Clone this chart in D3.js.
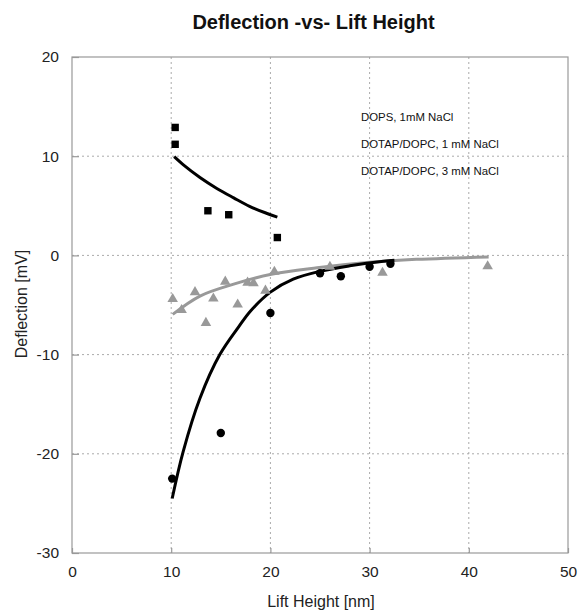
<!DOCTYPE html>
<html>
<head>
<meta charset="utf-8">
<script src="https://cdn.jsdelivr.net/npm/d3@7"></script>
<style>
  body { margin: 0; background: #fff; }
  text { font-family: "Liberation Sans", Arial, sans-serif; }
</style>
</head>
<body>
<script>
//Define data
let xTicks = [0, 10, 20, 30, 40, 50];
let yTicks = [-30, -20, -10, 0, 10, 20];

let seriesNames = ['DOPS, 1mM NaCl', 'DOTAP/DOPC, 1 mM NaCl', 'DOTAP/DOPC, 3 mM NaCl'];

// DOPS, 1mM NaCl (squares)
let dopsX = [10.4, 10.4, 13.7, 15.8, 20.7];
let dopsY = [12.9, 11.2, 4.5, 4.1, 1.8];
let dopsFitX = [10.3, 11.2, 12.9, 14.6, 16.3, 17.9, 19.6, 20.7];
let dopsFitY = [9.95, 9.15, 7.85, 6.75, 5.8, 4.95, 4.25, 3.85];

// DOTAP/DOPC, 1 mM NaCl (circles)
let dotap1X = [10.1, 15.0, 20.0, 25.0, 27.1, 30.0, 32.1];
let dotap1Y = [-22.5, -17.9, -5.8, -1.8, -2.1, -1.15, -0.85];
let dotap1FitX = [10.1, 11.2, 12.9, 14.9, 16.8, 18.0, 20.0, 22.3, 25.0, 28.0, 31.4, 32.5];
let dotap1FitY = [-24.5, -19.8, -14.4, -10.0, -7.2, -5.6, -3.7, -2.4, -1.6, -1.05, -0.6, -0.5];

// DOTAP/DOPC, 3 mM NaCl (triangles)
let dotap3X = [10.15, 11.05, 12.4, 13.5, 14.25, 15.45, 16.7, 17.7, 18.3, 19.5, 20.4, 26.0, 31.3, 41.9];
let dotap3Y = [-4.4, -5.5, -3.7, -6.8, -4.35, -2.65, -4.95, -2.75, -2.8, -3.55, -1.65, -1.15, -1.75, -1.1];
let dotap3FitX = [10.15, 12.9, 16.3, 20.1, 24.7, 30.0, 34.7, 42.0];
let dotap3FitY = [-5.95, -4.1, -2.9, -1.9, -1.25, -0.7, -0.4, -0.15];

let
  width = 579,
  height = 612;

let margin = {
  top: 57,
  bottom: 59,
  left: 72,
  right: 11
}

let svg = d3.select('body')
            .append('svg')
            .attr('width', width)
            .attr('height', height)

//Define the scales:
let xScale = d3.scaleLinear()
              .domain([0, 50])
              .range([margin.left, width - margin.right])

let yScale = d3.scaleLinear()
              .domain([-30, 20])
              .range([height - margin.bottom, margin.top])

//grid lines
svg.append('g')
  .selectAll('line')
  .data(xTicks.slice(1, -1))
  .join('line')
  .attr('x1', d => xScale(d))
  .attr('x2', d => xScale(d))
  .attr('y1', yScale(20))
  .attr('y2', yScale(-30))
  .attr('stroke', '#aaa')
  .attr('stroke-dasharray', '2,3')

svg.append('g')
  .selectAll('line')
  .data(yTicks.slice(1, -1))
  .join('line')
  .attr('x1', xScale(0))
  .attr('x2', xScale(50))
  .attr('y1', d => yScale(d))
  .attr('y2', d => yScale(d))
  .attr('stroke', '#aaa')
  .attr('stroke-dasharray', '2,3')

//frame
svg.append('rect')
  .attr('x', xScale(0))
  .attr('y', yScale(20))
  .attr('width', xScale(50) - xScale(0))
  .attr('height', yScale(-30) - yScale(20))
  .attr('fill', 'none')
  .attr('stroke', '#999')
  .attr('stroke-width', 1.2)

//axes (plain hyphen minus like the original)
let xAxis = svg.append('g')
              .attr('transform', `translate(0, ${yScale(-30)})`)
              .call(d3.axisBottom(xScale).tickValues(xTicks).tickFormat(d => String(d))
                      .tickSizeInner(-5).tickSizeOuter(0).tickPadding(13))
let yAxis = svg.append('g')
              .attr('transform', `translate(${xScale(0)}, 0)`)
              .call(d3.axisLeft(yScale).tickValues(yTicks).tickFormat(d => String(d))
                      .tickSizeInner(-7).tickSizeOuter(0).tickPadding(13))

svg.selectAll('.domain').remove()
svg.selectAll('.tick line').attr('stroke', '#999').attr('stroke-width', 1.2)
svg.selectAll('.tick text')
  .style('font-size', '15.5px')
  .style('font-family', '"Liberation Sans", Arial, sans-serif')
  .attr('fill', '#222')

//Draw the labels
svg.append('text')
  .attr('x', width / 2 + 24)
  .attr('y', 29)
  .text('Deflection -vs- Lift Height')
  .style('text-anchor', 'middle')
  .style('font-size', '20px')
  .style('font-weight', 'bold')
  .attr('fill', '#111')

svg.append('text')
  .attr('x', 321)
  .attr('y', 607)
  .text('Lift Height [nm]')
  .style('text-anchor', 'middle')
  .style('font-size', '16px')
  .attr('fill', '#222')

svg.append('text')
  .attr('x', -304)
  .attr('y', 27)
  .text('Deflection [mV]')
  .style('text-anchor', 'middle')
  .style('font-size', '16px')
  .attr('fill', '#222')
  .attr('transform', 'rotate(-90)')

//legend text
svg.append('g')
  .selectAll('text')
  .data(seriesNames)
  .join('text')
  .attr('x', 361)
  .attr('y', (d, i) => 120.7 + i * 27.3)
  .text(d => d)
  .style('font-size', '11.4px')
  .attr('fill', '#111')

//fit lines
let line = d3.line()
            .x(d => xScale(d[0]))
            .y(d => yScale(d[1]))
            .curve(d3.curveCatmullRom)

svg.append('path')
  .datum(d3.zip(dotap3FitX, dotap3FitY))
  .attr('d', line)
  .attr('stroke', '#999')
  .attr('stroke-width', 3)
  .attr('fill', 'none')

svg.append('path')
  .datum(d3.zip(dotap1FitX, dotap1FitY))
  .attr('d', line)
  .attr('stroke', '#000')
  .attr('stroke-width', 3)
  .attr('fill', 'none')

svg.append('path')
  .datum(d3.zip(dopsFitX, dopsFitY))
  .attr('d', line)
  .attr('stroke', '#000')
  .attr('stroke-width', 3)
  .attr('fill', 'none')

//markers
svg.append('g')
  .selectAll('path')
  .data(d3.zip(dotap3X, dotap3Y))
  .join('path')
  .attr('d', d3.symbol(d3.symbolTriangle, 48))
  .attr('transform', d => `translate(${xScale(d[0])}, ${yScale(d[1])})`)
  .attr('fill', '#999')

svg.append('g')
  .selectAll('circle')
  .data(d3.zip(dotap1X, dotap1Y))
  .join('circle')
  .attr('cx', d => xScale(d[0]))
  .attr('cy', d => yScale(d[1]))
  .attr('r', 4.2)
  .attr('fill', '#000')

svg.append('g')
  .selectAll('rect')
  .data(d3.zip(dopsX, dopsY))
  .join('rect')
  .attr('x', d => xScale(d[0]) - 3.7)
  .attr('y', d => yScale(d[1]) - 3.7)
  .attr('width', 7.4)
  .attr('height', 7.4)
  .attr('fill', '#000')
</script>
</body>
</html>
